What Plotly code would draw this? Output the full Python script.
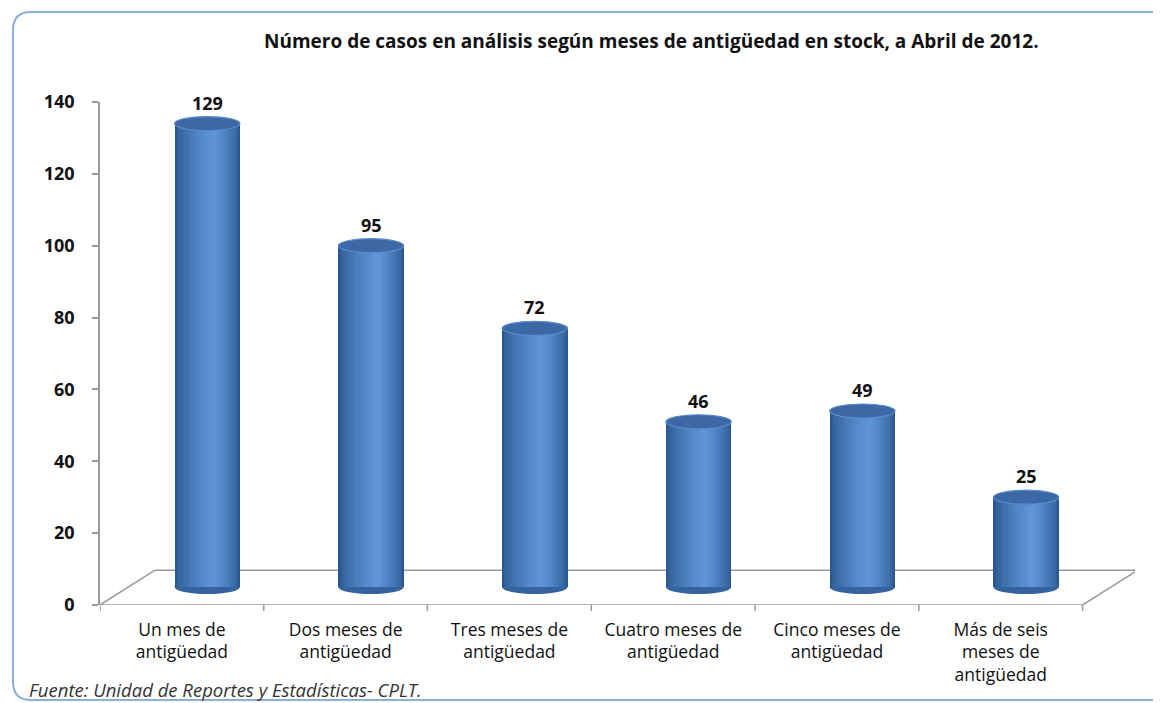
import plotly.graph_objects as go

categories = ["Un mes de<br>antigüedad", "Dos meses de<br>antigüedad", "Tres meses de<br>antigüedad",
              "Cuatro meses de<br>antigüedad", "Cinco meses de<br>antigüedad", "Más de seis<br>meses de<br>antigüedad"]
values = [129, 95, 72, 46, 49, 25]
y_ticks = [0, 20, 40, 60, 80, 100, 120, 140]

title = "Número de casos en análisis según meses de antigüedad en stock, a Abril de 2012."
source = "Fuente: Unidad de Reportes y Estadísticas- CPLT."

# page offset (browser body margin) and figure size
OFF = 8
W, H = 1161 - OFF, 703 - OFF
ML, MR, MT, MB = 100 - OFF, 26, 102 - OFF, 98
PW, PH = W - ML - MR, H - MT - MB
XR = [-0.5, 5.82]
YR = [0, 140]

DEPTH_Y = 9.7      # floor depth in y units
DEPTH_X = 0.336    # floor depth in category units
BASE = 5.0         # bars sit in middle of floor
SHIFT = 0.155      # bar center offset
BW = 0.40          # bar width
CAP = 1.95         # half-height of elliptical cap (y units)

xs = list(range(len(categories)))
fig = go.Figure()


def lerp_color(c1, c2, t):
    a = [int(c1[i:i + 2], 16) for i in (1, 3, 5)]
    b = [int(c2[i:i + 2], 16) for i in (1, 3, 5)]
    return "#" + "".join(f"{round(a[k] + (b[k] - a[k]) * t):02x}" for k in range(3))


DARK, LIGHT = "#2C5891", "#5E95D8"
NL = 16

# bottom cap (drawn before bars)
for i, v in enumerate(values):
    fig.add_shape(type="circle", xref="x", yref="y",
                  x0=i + SHIFT - BW / 2, x1=i + SHIFT + BW / 2,
                  y0=BASE - CAP, y1=BASE + CAP,
                  fillcolor="#3563A0", line=dict(width=0), layer="below")

for k in range(NL):
    t = k / (NL - 1)
    wf = 1.0 - 0.92 * t
    co = 0.09 * t
    col = lerp_color(DARK, LIGHT, t ** 0.7)
    w = BW * wf
    fig.add_trace(go.Bar(
        x=xs, y=values, base=BASE, width=w,
        offset=SHIFT + co * BW - w / 2,
        marker=dict(color=col, line=dict(width=0)),
        hoverinfo="skip" if k > 0 else None, showlegend=False,
    ))

# top caps and value labels
for i, v in enumerate(values):
    fig.add_shape(type="circle", xref="x", yref="y",
                  x0=i + SHIFT - BW / 2, x1=i + SHIFT + BW / 2,
                  y0=v + BASE - CAP, y1=v + BASE + CAP,
                  fillcolor="#3C69A5", line=dict(width=1.2, color="#5A8BCB"), layer="above")
    fig.add_annotation(x=i + SHIFT, y=v + BASE, text=f"<b>{v}</b>", showarrow=False,
                       yanchor="middle", yshift=21,
                       font=dict(family="Open Sans", size=18, color="#111111"))

# floor parallelogram
n = len(categories)
floor_col = "#9A9A9A"
x_front0, x_front1 = -0.5, n - 0.5
for (a0, b0, a1, b1) in [
    (x_front0, 0, x_front0 + DEPTH_X, DEPTH_Y),
    (x_front0 + DEPTH_X, DEPTH_Y, x_front1 + DEPTH_X, DEPTH_Y),
    (x_front1 + DEPTH_X, DEPTH_Y, x_front1, 0),
    (x_front0, 0, x_front1, 0),
]:
    fig.add_shape(type="line", xref="x", yref="y", x0=a0, y0=b0, x1=a1, y1=b1,
                  line=dict(color=floor_col, width=1.5), layer="below")

# category boundary ticks
for b in [x_front0 + k for k in range(n + 1)]:
    fig.add_shape(type="line", xref="x", yref="paper", x0=b, x1=b, y0=0, y1=-6 / PH,
                  line=dict(color=floor_col, width=1.5))


# frame (rounded rectangle) in paper coords; inputs in reference-page pixels
def px(x):
    return (x - OFF - ML) / PW


def py(y):
    return (H - MB - (y - OFF)) / PH


fx0, fy0, fx1, fy1, r = 13, 12, 1185, 700, 18
path = (f"M {px(fx0 + r)},{py(fy0)} L {px(fx1 - r)},{py(fy0)} "
        f"Q {px(fx1)},{py(fy0)} {px(fx1)},{py(fy0 + r)} "
        f"L {px(fx1)},{py(fy1 - r)} Q {px(fx1)},{py(fy1)} {px(fx1 - r)},{py(fy1)} "
        f"L {px(fx0 + r)},{py(fy1)} Q {px(fx0)},{py(fy1)} {px(fx0)},{py(fy1 - r)} "
        f"L {px(fx0)},{py(fy0 + r)} Q {px(fx0)},{py(fy0)} {px(fx0 + r)},{py(fy0)} Z")
fig.add_shape(type="path", xref="paper", yref="paper", path=path,
              line=dict(color="#8EAEDB", width=2), fillcolor="rgba(0,0,0,0)", layer="below")

fig.add_annotation(xref="paper", yref="paper", x=px(651), y=py(41), text=f"<b>{title}</b>",
                   showarrow=False, xanchor="center", yanchor="middle",
                   font=dict(family="Open Sans", size=19, color="#111111"))
fig.add_annotation(xref="paper", yref="paper", x=px(27), y=py(689), text=f"<i>{source}</i>",
                   showarrow=False, xanchor="left", yanchor="middle",
                   font=dict(family="Open Sans", size=18.5, color="#333333"))

fig.update_layout(
    width=W, height=H, autosize=False,
    margin=dict(l=ML, r=MR, t=MT, b=MB),
    paper_bgcolor="white", plot_bgcolor="rgba(0,0,0,0)",
    barmode="overlay", bargap=0,
    showlegend=False,
    font=dict(family="Open Sans", color="#111111"),
)
fig.update_xaxes(
    type="linear", range=XR, tickmode="array",
    tickvals=xs, ticktext=categories,
    showgrid=False, zeroline=False, showline=False,
    ticks="", ticklabelstandoff=12,
    tickfont=dict(family="Open Sans", size=17.5, color="#111111"),
)
fig.update_yaxes(
    range=YR, tickvals=y_ticks, showgrid=False, zeroline=False,
    showline=True, linecolor=floor_col, linewidth=1.5,
    ticks="outside", ticklen=6, tickcolor=floor_col, tickwidth=1.5,
    ticklabelstandoff=14,
    tickfont=dict(family="Open Sans", size=18, color="#111111", weight="bold"),
)

fig.write_html("out.html")
